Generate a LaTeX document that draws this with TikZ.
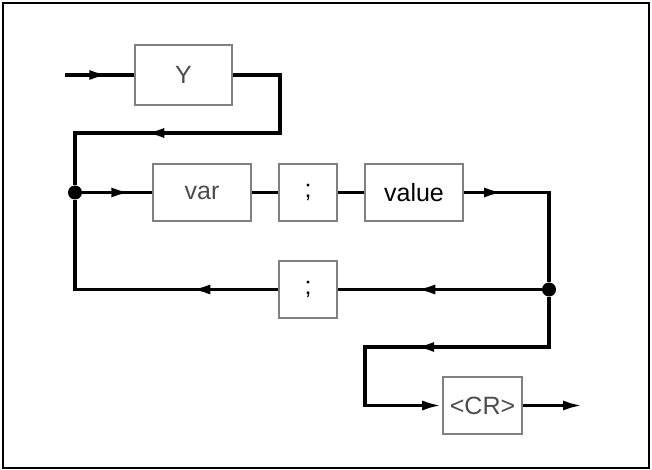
\documentclass[tikz,border=0pt]{standalone}
\usepackage{fontspec}
\setmainfont{Liberation Sans}
\usetikzlibrary{arrows.meta,decorations.markings}

\begin{document}
\begin{tikzpicture}[x=0.5pt,y=-0.5pt,>={Latex[length=10pt,width=5pt]},
  font=\fontsize{12.5}{15}\selectfont,
  box/.style={draw=gray,line width=0.8pt,minimum height=28.5pt,inner sep=0pt},
  flow/.style={line width=1.8pt},
  arr/.style={postaction={decorate,decoration={markings,
      mark=at position #1 with {\arrow{>}}}}},
  dot/.style={circle,fill,inner sep=0pt,minimum size=7pt}]
\useasboundingbox (0,0) rectangle (652,470);
\draw[line width=1.1pt] (3,3) rectangle (649,468);
% boxes of the syntax chart
\node[box,minimum width=48.5pt,minimum height=30pt,text=black!70] (y) at (183.5,75) {Y};
\node[box,minimum width=49pt,text=black!70] (var) at (202,192.5) {var};
\node[box,minimum width=29pt] (semi1) at (308,192.5) {;};
\node[box,minimum width=49pt] (value) at (414,192.5) {value};
\node[box,minimum width=29pt] (semi2) at (308,289.5) {;};
\node[box,minimum width=39.5pt,text=black!70] (cr) at (482.5,405.5) {<CR>};
% junctions and bends
\node[dot] (j1) at (75,192.5) {};
\node[dot] (j2) at (549,289.5) {};
\coordinate (in) at (65,75);
\coordinate (c0) at (280,133);
\coordinate (c1) at (365,347);
\coordinate (out) at (583,405.5);
% connectors
\draw[flow,arr=0.64] (in) -- (y);
\draw[flow,arr=0.665] (y.east) -| (c0) -| (j1);
\draw[flow,arr=0.70] (j1) -- (var);
\draw[flow] (var) -- (semi1);
\draw[flow] (semi1) -- (value);
\draw[flow,arr=0.23] (value) -| (j2);
\draw[flow,arr=0.62] (j2) -- (semi2);
\draw[flow,arr=0.30] (semi2) -| (j1);
\draw[flow,arr=0.50,->] (j2) |- (c1) |- (cr);
\draw[flow,->] (cr) -- (out);
\end{tikzpicture}
\end{document}
